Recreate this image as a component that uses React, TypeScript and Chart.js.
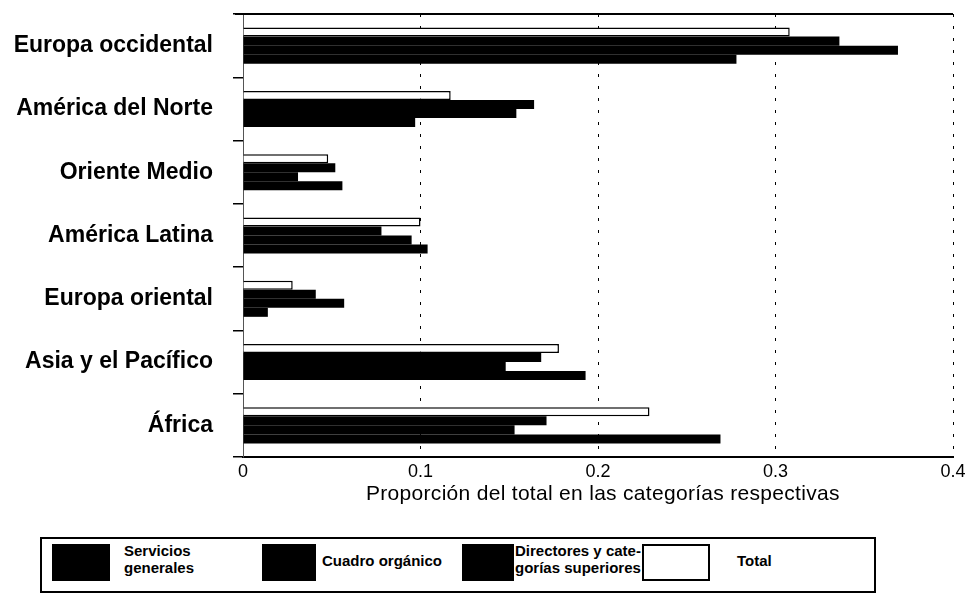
import React, { useEffect, useRef } from 'react';
import { Chart, registerables } from 'chart.js';

Chart.register(...registerables);

const categories = [
  'Europa occidental',
  'América del Norte',
  'Oriente Medio',
  'América Latina',
  'Europa oriental',
  'Asia y el Pacífico',
  'África',
];

const totalValues = [0.308, 0.117, 0.048, 0.1, 0.028, 0.178, 0.229];
const directoresValues = [0.336, 0.164, 0.052, 0.078, 0.041, 0.168, 0.171];
const cuadroValues = [0.369, 0.154, 0.031, 0.095, 0.057, 0.148, 0.153];
const serviciosValues = [0.278, 0.097, 0.056, 0.104, 0.014, 0.193, 0.269];

const xTickLabels = ['0', '0.1', '0.2', '0.3', '0.4'];
const axisTitle = 'Proporción del total en las categorías respectivas';

const FONT = '"Liberation Sans", Arial, Helvetica, sans-serif';

const topBorderPlugin = {
  id: 'topBorder',
  afterDraw(chart: any) {
    const { ctx, chartArea } = chart;
    ctx.save();
    ctx.strokeStyle = '#000';
    ctx.lineWidth = 2;
    ctx.beginPath();
    ctx.moveTo(chartArea.left - 8, chartArea.top);
    ctx.lineTo(chartArea.right, chartArea.top);
    ctx.stroke();
    ctx.restore();
  },
};

function Legend() {
  const box: React.CSSProperties = {
    position: 'absolute',
    left: 40,
    top: 537,
    width: 836,
    height: 56,
    border: '2px solid #000',
    boxSizing: 'border-box',
    fontFamily: FONT,
    color: '#000',
  };
  const sq = (left: number, width: number, filled: boolean): React.CSSProperties => ({
    position: 'absolute',
    left,
    top: 5,
    width,
    height: 37,
    background: filled ? '#000' : '#fff',
    border: filled ? 'none' : '2px solid #000',
    boxSizing: 'border-box',
  });
  const txt = (left: number, top: number): React.CSSProperties => ({
    position: 'absolute',
    left,
    top,
    fontSize: 15,
    fontWeight: 'bold',
    lineHeight: '17px',
    whiteSpace: 'nowrap',
  });
  return (
    <div style={box}>
      <div style={sq(10, 58, true)} />
      <div style={txt(82, 3)}>Servicios<br />generales</div>
      <div style={sq(220, 54, true)} />
      <div style={txt(280, 13)}>Cuadro orgánico</div>
      <div style={sq(420, 52, true)} />
      <div style={txt(473, 3)}>Directores y cate-<br />gorías superiores</div>
      <div style={sq(600, 68, false)} />
      <div style={txt(695, 13)}>Total</div>
    </div>
  );
}

export default function App() {
  const canvasRef = useRef<HTMLCanvasElement | null>(null);

  useEffect(() => {
    if (!canvasRef.current) return;
    const chart = new Chart(canvasRef.current, {
      type: 'bar',
      data: {
        labels: categories,
        datasets: [
          {
            label: 'Total',
            data: totalValues,
            backgroundColor: '#fff',
            borderColor: '#000',
            borderWidth: 1.5,
          },
          {
            label: 'Directores y categorías superiores',
            data: directoresValues,
            backgroundColor: '#000',
            borderWidth: 0,
          },
          {
            label: 'Cuadro orgánico',
            data: cuadroValues,
            backgroundColor: '#000',
            borderWidth: 0,
          },
          {
            label: 'Servicios generales',
            data: serviciosValues,
            backgroundColor: '#000',
            borderWidth: 0,
          },
        ],
      },
      options: {
        indexAxis: 'y',
        animation: false,
        responsive: false,
        maintainAspectRatio: false,
        devicePixelRatio: 1,
        datasets: {
          bar: {
            barPercentage: 1,
            categoryPercentage: 0.57,
          },
        },
        layout: {
          padding: { top: 14, right: 19, left: 0, bottom: 0 },
        },
        plugins: {
          legend: { display: false },
          tooltip: { enabled: false },
        },
        scales: {
          x: {
            type: 'linear',
            position: 'bottom',
            min: 0,
            max: 0.4,
            ticks: {
              stepSize: 0.1,
              color: '#000',
              padding: 4,
              font: { family: FONT, size: 18 },
              callback: (v: any) => {
                const i = Math.round(Number(v) / 0.1);
                return xTickLabels[i] ?? '';
              },
            },
            grid: {
              color: (ctx: any) => (ctx.tick && ctx.tick.value === 0 ? 'rgba(0,0,0,0)' : '#000'),
              lineWidth: 1,
              drawTicks: false,
            },
            border: {
              display: true,
              color: '#000',
              width: 2,
              dash: [3, 9],
            },
            afterFit: (scale: any) => {
              scale.height = 40;
            },
          },
          y: {
            type: 'category',
            ticks: {
              color: '#000',
              padding: 20,
              font: { family: FONT, size: 23, weight: 'bold' },
            },
            grid: {
              offset: true,
              drawOnChartArea: false,
              drawTicks: true,
              tickLength: 10,
              color: '#000',
              lineWidth: 1.5,
            },
            border: { display: true, color: '#555', width: 1 },
            afterFit: (scale: any) => {
              scale.width = 243;
              scale.paddingTop = 0;
              scale.paddingBottom = 0;
            },
          },
        },
      },
      plugins: [topBorderPlugin],
    });
    return () => chart.destroy();
  }, []);

  return (
    <div
      style={{
        position: 'fixed',
        left: 0,
        top: 0,
        width: 972,
        height: 600,
        background: '#fff',
        overflow: 'hidden',
      }}
    >
      <canvas
        ref={canvasRef}
        width={972}
        height={497}
        style={{ position: 'absolute', left: 0, top: 0, width: 972, height: 497 }}
      />
      <div
        style={{
          position: 'absolute',
          left: 366,
          top: 481,
          fontFamily: FONT,
          fontSize: 21,
          color: '#000',
          whiteSpace: 'nowrap',
          letterSpacing: 0.3,
        }}
      >
        {axisTitle}
      </div>
      <Legend />
    </div>
  );
}
